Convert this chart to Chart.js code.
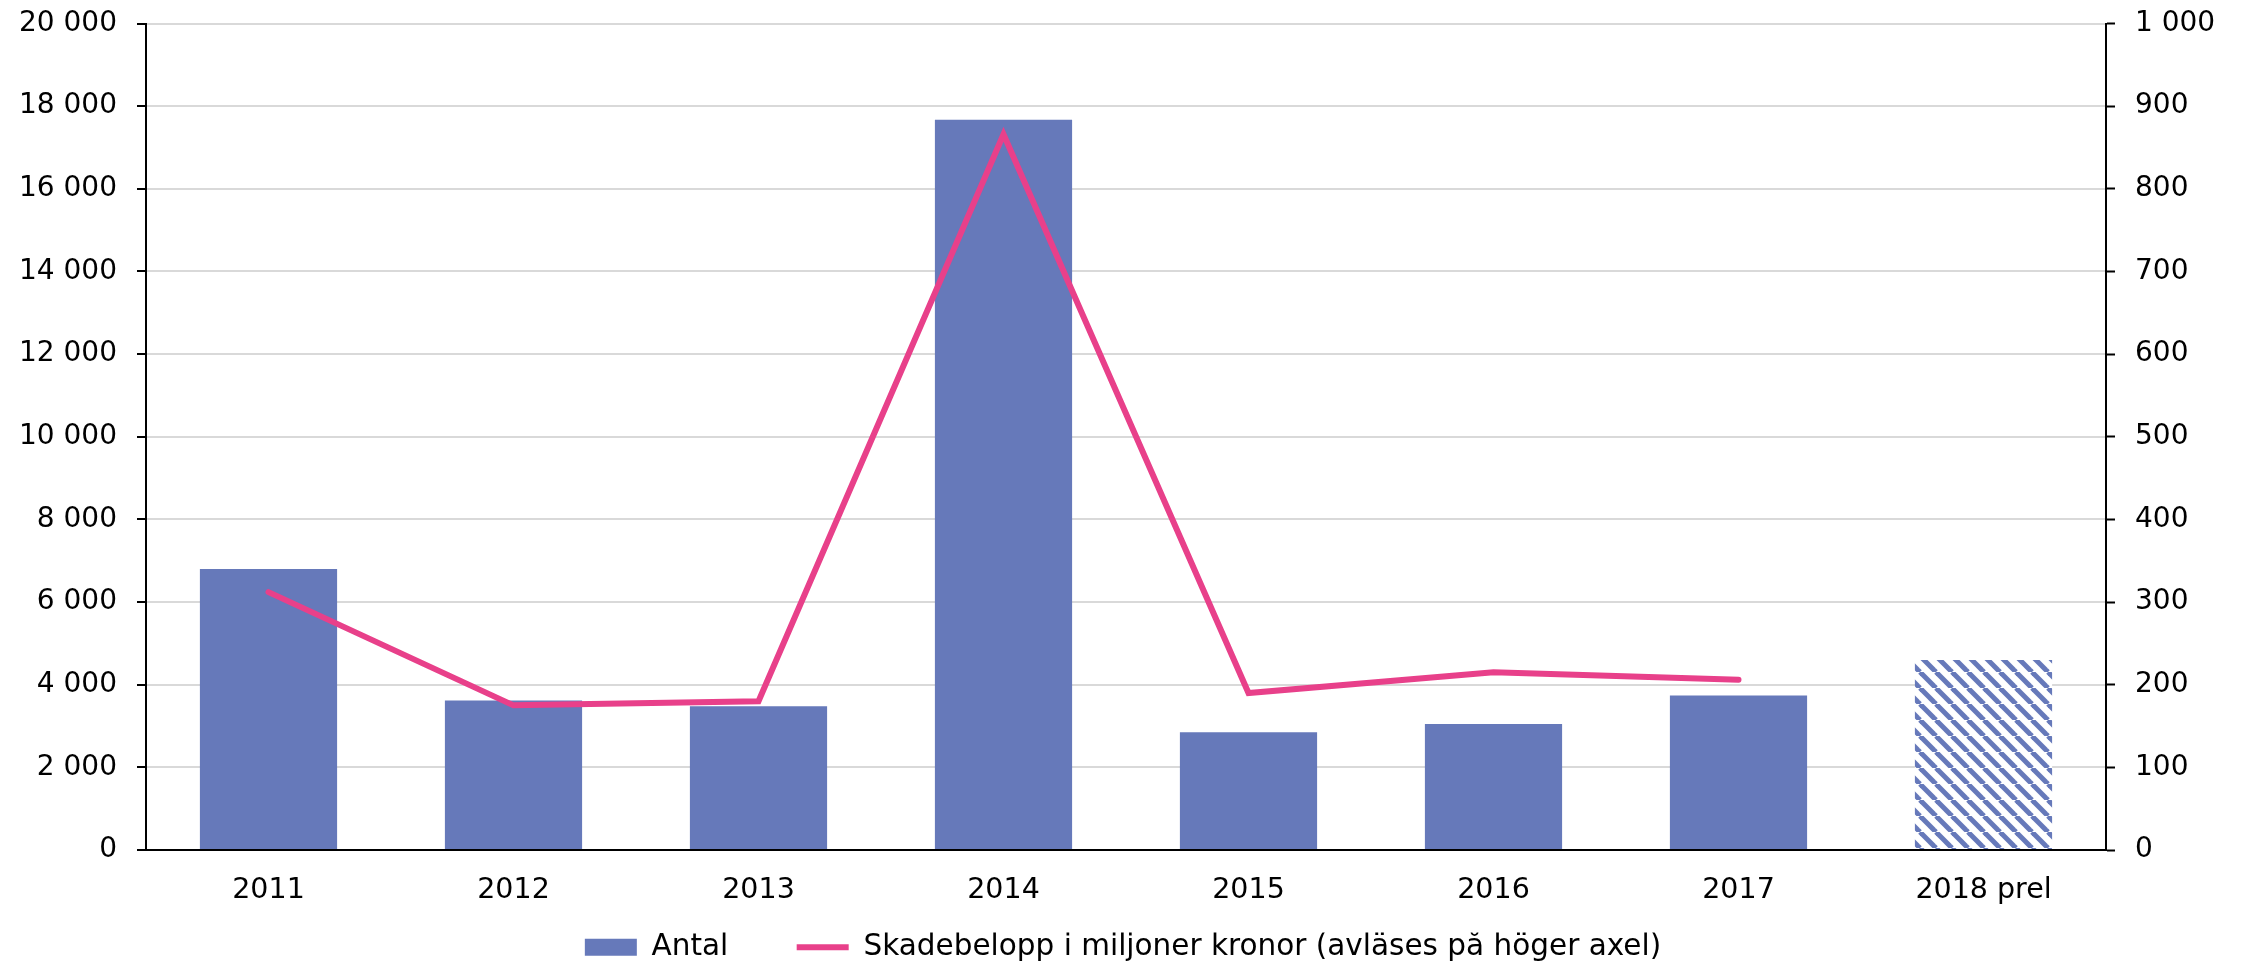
<!DOCTYPE html>
<html>
<head>
<meta charset="utf-8">
<script src="https://cdn.jsdelivr.net/npm/chart.js@4.4.1/dist/chart.umd.min.js"></script>
<style>
  html, body { margin: 0; padding: 0; background: #fff; }
  canvas { display: block; }
</style>
</head>
<body>
<canvas id="skadeChart" width="2246" height="966"></canvas>
<script>
// data
const years = ["2011", "2012", "2013", "2014", "2015", "2016", "2017", "2018 prel"];
const antal = [6800, 3620, 3480, 17670, 2850, 3050, 3740, 4600];
const skadebelopp = [312, 175, 180, 866, 190, 215, 206, null];
const leftTicks = ["0", "2 000", "4 000", "6 000", "8 000", "10 000", "12 000", "14 000", "16 000", "18 000", "20 000"];
const rightTicks = ["0", "100", "200", "300", "400", "500", "600", "700", "800", "900", "1 000"];

const barBlue = "#6679BA";
const pink = "#E8408A";

Chart.defaults.font.family = "'DejaVu Sans', Verdana, sans-serif";
Chart.defaults.font.size = 28;
Chart.defaults.color = "#000";

// striped fill for the preliminary year
function makeHatch() {
  const c = document.createElement("canvas");
  c.width = 16;
  c.height = 16;
  const g = c.getContext("2d");
  g.fillStyle = "#fff";
  g.fillRect(0, 0, 16, 16);
  g.strokeStyle = barBlue;
  g.lineWidth = 5;
  [-16, 0, 16].forEach((off) => {
    g.beginPath();
    g.moveTo(off, 0);
    g.lineTo(off + 16, 16);
    g.stroke();
  });
  return g.createPattern(c, "repeat");
}

const ctx = document.getElementById("skadeChart").getContext("2d");
const hatch = makeHatch();
const barColors = years.map((y, i) => (i === years.length - 1 ? hatch : barBlue));

new Chart(ctx, {
  data: {
    labels: years,
    datasets: [
      {
        type: "bar",
        label: "Antal",
        data: antal,
        backgroundColor: barColors,
        borderWidth: 0,
        yAxisID: "y",
        order: 1,
        categoryPercentage: 1,
        barPercentage: 0.56,
      },
      {
        type: "line",
        label: "Skadebelopp i miljoner kronor (avläses på höger axel)",
        data: skadebelopp,
        borderColor: pink,
        backgroundColor: pink,
        borderWidth: 6,
        borderCapStyle: "round",
        pointRadius: 0,
        tension: 0,
        yAxisID: "y1",
        order: 0,
      },
    ],
  },
  options: {
    responsive: false,
    animation: false,
    layout: { padding: { top: 10, left: 0, right: 0, bottom: -6 } },
    plugins: {
      tooltip: { enabled: false },
      legend: {
        position: "bottom",
        labels: {
          usePointStyle: true,
          pointStyleWidth: 52,
          boxHeight: 17,
          padding: 0,
          font: { size: 29.5 },
          color: "#000",
          sort: (a, b) => a.datasetIndex - b.datasetIndex,
          generateLabels: (chart) => {
            const items = Chart.defaults.plugins.legend.labels.generateLabels(chart);
            items.forEach((it) => {
              if (it.datasetIndex === 0) {
                it.pointStyle = "rect";
                it.fillStyle = barBlue;
                it.lineWidth = 0;
                it.text = it.text + "\u2003\u2003 ";
              } else {
                it.pointStyle = "line";
              }
            });
            return items;
          },
        },
      },
    },
    scales: {
      x: {
        grid: { display: false, drawTicks: false },
        border: { display: true, color: "#000", width: 2 },
        ticks: { padding: 23, font: { size: 28.5 }, color: "#000" },
        afterFit: (scale) => { scale.height = 82.5; },
      },
      y: {
        position: "left",
        min: 0,
        max: 20000,
        grid: { color: "#D9D9D9", lineWidth: 2, tickLength: 9, tickColor: "#000", tickWidth: 2 },
        border: { color: "#000", width: 2 },
        ticks: {
          stepSize: 2000,
          padding: 20,
          font: { size: 28, lineHeight: 0.25 },
          color: "#000",
          callback: (v, i) => leftTicks[i],
        },
        afterFit: (scale) => { scale.width = 146; },
      },
      y1: {
        position: "right",
        min: 0,
        max: 1000,
        grid: { drawOnChartArea: false, tickLength: 9, tickColor: "#000", tickWidth: 2 },
        border: { color: "#000", width: 2 },
        ticks: {
          stepSize: 100,
          padding: 20,
          font: { size: 28, lineHeight: 0.25 },
          color: "#000",
          callback: (v, i) => rightTicks[i],
        },
        afterFit: (scale) => { scale.width = 140; },
      },
    },
  },
});
</script>
</body>
</html>
